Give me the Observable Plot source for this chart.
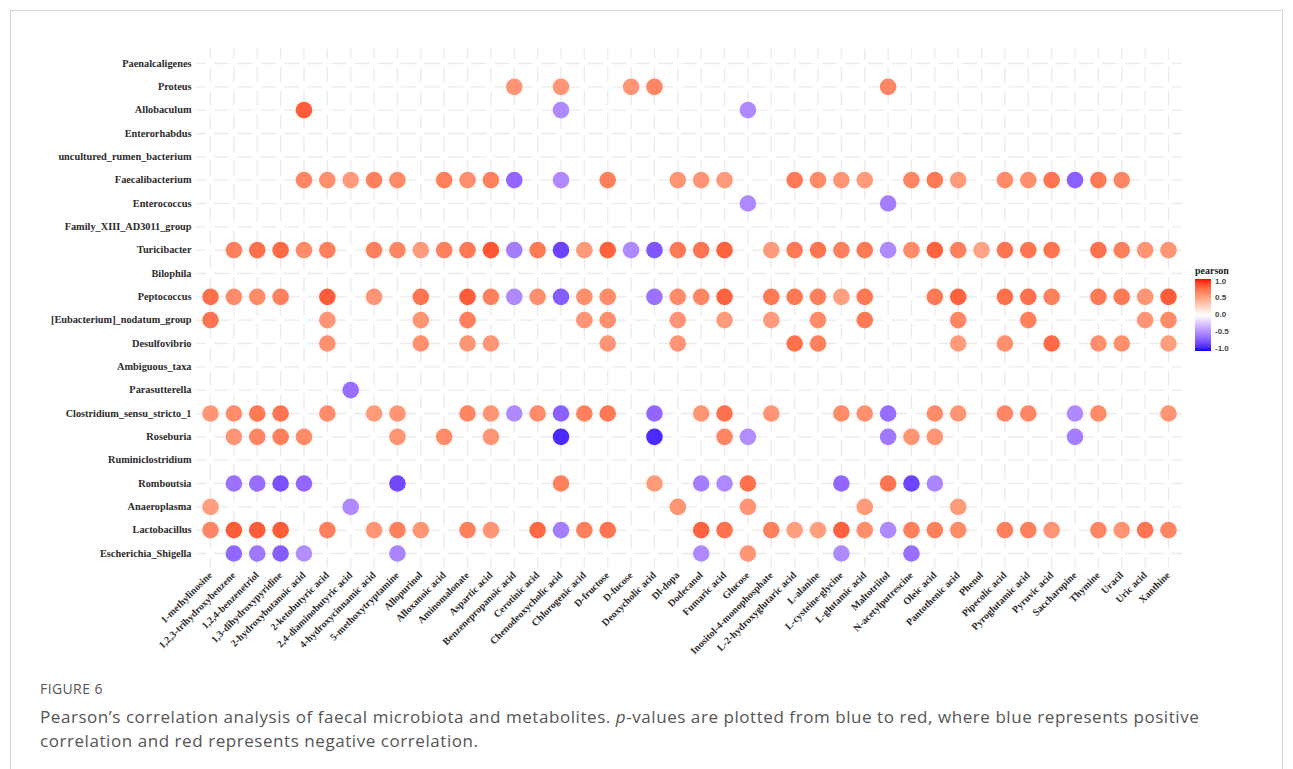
<!DOCTYPE html>
<html><head><meta charset="utf-8">
<script src="https://cdn.jsdelivr.net/npm/d3@7"></script>
<script src="https://cdn.jsdelivr.net/npm/@observablehq/plot@0.6"></script>
<style>
html,body{margin:0;padding:0;background:#fff}
body{width:1293px;height:769px;overflow:hidden;position:relative;font-family:"Open Sans",sans-serif}
#frame{position:absolute;left:10px;top:10px;width:1273px;height:820px;border:1px solid #d6d6d6;box-sizing:border-box}
#chart{position:absolute;left:0;top:0}
#legend{position:absolute;left:0;top:0;font-family:"Liberation Serif",serif}
#legTitle{position:absolute;left:1195px;top:265px;font-size:10px;font-weight:bold;color:#222}
#legBar{position:absolute;left:1195px;top:279px;width:16px;height:72px}
.legLab{position:absolute;left:1215px;font-family:"Liberation Sans",sans-serif;font-size:8px;font-weight:bold;color:#444;line-height:8px}
#fig{position:absolute;left:40px;top:679px;font-size:14px;color:#555;letter-spacing:0.4px}
#cap{position:absolute;left:40px;top:705px;font-size:17px;line-height:24px;color:#555;letter-spacing:0.56px;white-space:nowrap}
</style></head><body>
<div id="frame"></div>
<div id="chart"></div>
<div id="legend"><div id="legTitle">pearson</div><div id="legBar"></div></div>
<div id="fig">FIGURE 6</div>
<div id="cap">Pearson’s correlation analysis of faecal microbiota and metabolites. <i>p</i>-values are plotted from blue to red, where blue represents positive<br>correlation and red represents negative correlation.</div>
<script>
const bacteria = ["Paenalcaligenes","Proteus","Allobaculum","Enterorhabdus","uncultured_rumen_bacterium","Faecalibacterium","Enterococcus","Family_XIII_AD3011_group","Turicibacter","Bilophila","Peptococcus","[Eubacterium]_nodatum_group","Desulfovibrio","Ambiguous_taxa","Parasutterella","Clostridium_sensu_stricto_1","Roseburia","Ruminiclostridium","Romboutsia","Anaeroplasma","Lactobacillus","Escherichia_Shigella"];
const metabolites = ["1-methylinosine","1,2,3-trihydroxybenzene","1,2,4-benzenetriol","1,3-dihydroxypyridine","2-hydroxybutanoic acid","2-ketobutyric acid","2,4-diaminobutyric acid","4-hydroxycinnamic acid","5-methoxytryptamine","Allopurinol","Alloxanoic acid","Aminomalonate","Aspartic acid","Benzenepropanoic acid","Cerotinic acid","Chenodeoxycholic acid","Chlorogenic acid","D-fructose","D-fucose","Deoxycholic acid","Dl-dopa","Dodecanol","Fumaric acid","Glucose","Inositol-4-monophosphate","L-2-hydroxyglutaric acid","L-alanine","L-cysteine-glycine","L-glutamic acid","Maltotriitol","N-acetylputrescine","Oleic acid","Pantothenic acid","Phenol","Pipecolic acid","Pyroglutamic acid","Pyruvic acid","Saccharopine","Thymine","Uracil","Uric acid","Xanthine"];
const legendTicks = [1.0, 0.5, 0.0, -0.5, -1.0];

// [metabolite number (1-based), pearson r] for each bacterium
const proteus = [[14,0.55],[16,0.55],[19,0.55],[20,0.62],[30,0.62]];
const allobaculum = [[5,0.8],[16,-0.5],[24,-0.5]];
const faecalibacterium = [[5,0.62],[6,0.58],[7,0.52],[8,0.65],[9,0.6],[11,0.65],[12,0.58],[13,0.65],[14,-0.65],[16,-0.5],[18,0.65],[21,0.55],[22,0.55],[23,0.52],[26,0.68],[27,0.6],[28,0.55],[29,0.52],[31,0.62],[32,0.68],[33,0.52],[35,0.6],[36,0.58],[37,0.7],[38,-0.68],[39,0.68],[40,0.62]];
const enterococcus = [[24,-0.5],[30,-0.55]];
const turicibacter = [[2,0.65],[3,0.72],[4,0.75],[5,0.6],[6,0.65],[8,0.65],[9,0.62],[10,0.52],[11,0.65],[12,0.68],[13,0.82],[14,-0.55],[15,0.68],[16,-0.8],[17,0.52],[18,0.78],[19,-0.5],[20,-0.72],[21,0.68],[22,0.7],[23,0.78],[25,0.52],[26,0.68],[27,0.7],[28,0.65],[29,0.68],[30,-0.5],[31,0.6],[32,0.78],[33,0.65],[34,0.48],[35,0.7],[36,0.7],[37,0.7],[39,0.72],[40,0.65],[41,0.55],[42,0.55]];
const peptococcus = [[1,0.72],[2,0.6],[3,0.6],[4,0.65],[6,0.8],[8,0.55],[10,0.7],[12,0.8],[13,0.65],[14,-0.5],[15,0.58],[16,-0.7],[17,0.58],[18,0.6],[20,-0.6],[21,0.6],[22,0.62],[23,0.78],[25,0.68],[26,0.68],[27,0.65],[28,0.5],[29,0.68],[32,0.68],[33,0.78],[35,0.72],[36,0.72],[37,0.65],[39,0.68],[40,0.68],[41,0.55],[42,0.8]];
const eubacterium = [[1,0.7],[6,0.55],[10,0.55],[12,0.65],[17,0.55],[18,0.58],[21,0.55],[23,0.52],[25,0.52],[27,0.6],[29,0.68],[33,0.62],[36,0.65],[41,0.55],[42,0.6]];
const desulfovibrio = [[6,0.58],[10,0.58],[12,0.55],[13,0.55],[18,0.55],[21,0.55],[26,0.72],[27,0.65],[33,0.52],[35,0.58],[37,0.75],[39,0.58],[40,0.58],[42,0.5]];
const parasutterella = [[7,-0.62]];
const clostridium = [[1,0.55],[2,0.6],[3,0.68],[4,0.7],[6,0.6],[8,0.52],[9,0.55],[12,0.62],[13,0.55],[14,-0.5],[15,0.6],[16,-0.68],[17,0.65],[18,0.68],[20,-0.65],[22,0.55],[23,0.72],[25,0.55],[28,0.6],[29,0.58],[30,-0.62],[32,0.6],[33,0.55],[35,0.62],[36,0.62],[38,-0.5],[39,0.6],[42,0.55]];
const roseburia = [[2,0.55],[3,0.62],[4,0.65],[5,0.6],[9,0.55],[11,0.6],[13,0.55],[16,-0.9],[20,-0.9],[23,0.62],[24,-0.48],[30,-0.58],[31,0.55],[32,0.55],[38,-0.55]];
const romboutsia = [[2,-0.6],[3,-0.62],[4,-0.75],[5,-0.65],[9,-0.78],[16,0.65],[20,0.52],[22,-0.55],[23,-0.5],[24,0.72],[28,-0.65],[30,0.7],[31,-0.8],[32,-0.52]];
const anaeroplasma = [[1,0.5],[7,-0.5],[21,0.55],[24,0.55],[29,0.52],[33,0.52]];
const lactobacillus = [[1,0.62],[2,0.8],[3,0.8],[4,0.8],[6,0.65],[8,0.55],[9,0.65],[10,0.55],[12,0.65],[13,0.55],[15,0.75],[16,-0.55],[17,0.65],[18,0.7],[22,0.78],[23,0.72],[25,0.65],[26,0.5],[27,0.5],[28,0.78],[29,0.58],[30,-0.5],[31,0.65],[32,0.65],[33,0.6],[35,0.65],[36,0.65],[37,0.55],[39,0.62],[40,0.55],[41,0.7],[42,0.62]];
const escherichia = [[2,-0.65],[3,-0.58],[4,-0.7],[5,-0.48],[9,-0.52],[22,-0.5],[24,0.55],[28,-0.5],[31,-0.62]];

const rows = [
  ["Proteus", proteus],["Allobaculum", allobaculum],["Faecalibacterium", faecalibacterium],
  ["Enterococcus", enterococcus],["Turicibacter", turicibacter],["Peptococcus", peptococcus],
  ["[Eubacterium]_nodatum_group", eubacterium],["Desulfovibrio", desulfovibrio],
  ["Parasutterella", parasutterella],["Clostridium_sensu_stricto_1", clostridium],
  ["Roseburia", roseburia],["Romboutsia", romboutsia],["Anaeroplasma", anaeroplasma],
  ["Lactobacillus", lactobacillus],["Escherichia_Shigella", escherichia]
];
const table = rows.flatMap(([b, arr]) => arr.map(([i, r]) => ({bacterium: b, metabolite: metabolites[i - 1], r})));

const W = 1293, H = 660, ML = 196, MR = 111, MT = 49, MB = 93, PAD = 0.6;
const stepX = (W - ML - MR) / (metabolites.length - 1 + 2 * PAD);
const stepY = (H - MT - MB) / (bacteria.length - 1 + 2 * PAD);
const G = 8;
const gridColor = "#ebebeb";

const plot = Plot.plot({
  width: W, height: H,
  marginLeft: ML, marginRight: MR, marginTop: MT, marginBottom: MB,
  style: {fontFamily: "'Liberation Serif', serif", fontWeight: "bold", fontSize: "10px", color: "#2b2b2b", background: "transparent"},
  x: {type: "point", domain: metabolites, padding: PAD, round: false, label: null},
  y: {type: "point", domain: bacteria, padding: PAD, round: false, label: null},
  color: {type: "linear", domain: [-1, 0, 1], range: ["blue", "white", "red"], interpolate: "lab"},
  marks: [
    Plot.ruleX(metabolites, {x: d => d, stroke: gridColor, strokeWidth: 1.3,
      strokeDasharray: `${stepY - G} ${G}`, strokeDashoffset: (stepY - G) - PAD * stepY + G / 2}),
    Plot.ruleY(bacteria, {y: d => d, stroke: gridColor, strokeWidth: 1.3,
      strokeDasharray: `${stepX - G} ${G}`, strokeDashoffset: (stepX - G) - PAD * stepX + G / 2}),
    Plot.axisX({tickRotate: -45, tickSize: 0, tickPadding: 6, fontSize: 10}),
    Plot.axisY({tickSize: 0, tickPadding: 5, fontSize: 10.3}),
    Plot.dot(table, {x: "metabolite", y: "bacterium", fill: "r", r: 8.3, stroke: null})
  ]
});
document.getElementById("chart").appendChild(plot);

// legend
const cs = plot.scale("color");
const stops = d3.range(0, 21).map(i => {
  const v = 1 - i / 10;
  return `${d3.color(cs.apply(v)).formatHex()} ${(i / 20 * 100).toFixed(1)}%`;
});
document.getElementById("legBar").style.background = `linear-gradient(to bottom, ${stops.join(",")})`;
const leg = document.getElementById("legend");
legendTicks.forEach(t => {
  const s = document.createElement("div");
  s.className = "legLab";
  s.textContent = t.toFixed(1);
  s.style.top = (315 - t * 33.5 - 4) + "px";
  leg.appendChild(s);
});
</script>
</body></html>
